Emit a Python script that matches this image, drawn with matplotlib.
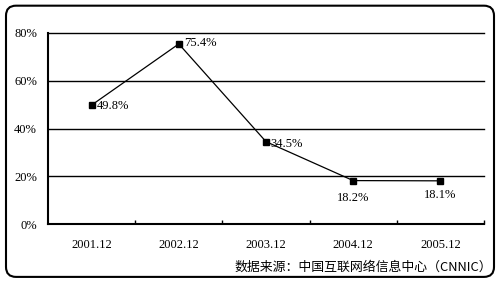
import matplotlib.pyplot as plt
from matplotlib.patches import FancyBboxPatch
from matplotlib.ticker import FixedLocator

# data
periods = ['2001.12', '2002.12', '2003.12', '2004.12', '2005.12']
growth = [49.8, 75.4, 34.5, 18.2, 18.1]
labels = ['49.8%', '75.4%', '34.5%', '18.2%', '18.1%']
y_ticks = [0, 20, 40, 60, 80]

num_font = ['Liberation Serif', 'DejaVu Serif']
cjk_font = ['Noto Sans CJK SC', 'DejaVu Sans']

fig = plt.figure(figsize=(5, 2.84), dpi=100)
ax = fig.add_axes([0.096, 0.211, 0.872, 0.673])

# rounded frame round the whole chart
frame = FancyBboxPatch((0.012, 0.025), 0.976, 0.955, boxstyle='round,pad=0,rounding_size=0.02',
                       transform=fig.transFigure, fill=False, edgecolor='black', linewidth=1.5,
                       mutation_aspect=500 / 284)
fig.patches.append(frame)

# horizontal gridlines, the top one doubles as the upper border
for v in y_ticks[1:]:
    ax.axhline(v, color='black', linewidth=1.0, clip_on=False, zorder=1)

x = list(range(len(periods)))
ax.plot(x, growth, color='black', linewidth=0.9, marker='s', markersize=4.5,
        markerfacecolor='black', zorder=3)

# value labels
offsets = [(4, -1, 'left', 'center'), (4, 1, 'left', 'center'), (3, -2, 'left', 'center'),
           (0, -8, 'center', 'top'), (0, -6, 'center', 'top')]
for xi, yi, lab, (dx, dy, ha, va) in zip(x, growth, labels, offsets):
    ax.annotate(lab, (xi, yi), xytext=(dx, dy), textcoords='offset points', ha=ha, va=va,
                fontsize=9, family=num_font)

ax.set_xlim(-0.5, len(periods) - 0.5)
ax.set_ylim(0, 80)
ax.set_yticks(y_ticks)
ax.set_yticklabels([f'{v}%' for v in y_ticks], family=num_font, fontsize=9)

ax.set_xticks(x)
ax.set_xticklabels(periods, family=num_font, fontsize=9)
ax.xaxis.set_minor_locator(FixedLocator([i + 0.5 for i in range(len(periods))]))
ax.tick_params(axis='x', which='major', length=0, pad=11)
ax.tick_params(axis='x', which='minor', direction='in', length=3, width=1)
ax.tick_params(axis='y', length=0, pad=8)

for side in ['top', 'right']:
    ax.spines[side].set_visible(False)
for side in ['left', 'bottom']:
    ax.spines[side].set_linewidth(1.5)

fig.text(0.984, 0.058, '数据来源：中国互联网络信息中心（CNNIC）', ha='right', va='center',
         fontsize=9.3, family=cjk_font, fontweight='medium')

fig.savefig('out.png', dpi=100)
